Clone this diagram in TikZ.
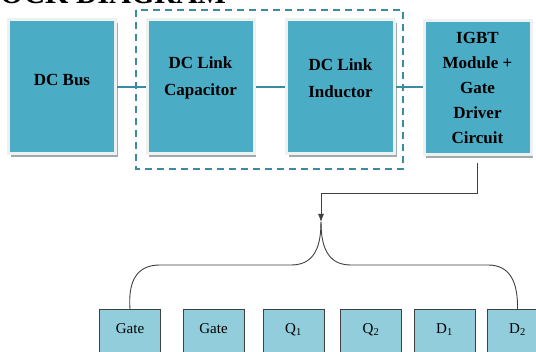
\documentclass[tikz,border=0pt]{standalone}
\usepackage{fontspec}
\setmainfont{Liberation Serif}
\usetikzlibrary{arrows.meta}
\usetikzlibrary{shadows}
\definecolor{blockblue}{RGB}{75,172,198}
\definecolor{blockframe}{RGB}{238,241,241}
\definecolor{blockshade}{RGB}{160,170,175}
\definecolor{linkteal}{RGB}{58,140,162}
\definecolor{legblue}{RGB}{146,205,220}
\definecolor{wiregray}{RGB}{64,64,64}
\tikzstyle{block}=[draw=blockframe, line width=3pt, fill=blockblue, inner sep=0,
                   minimum width=107pt, minimum height=134pt,
                   % grey drop shadow under the white frame
                   drop shadow={shadow xshift=2pt, shadow yshift=-3pt, fill=blockshade, opacity=1}]
\tikzstyle{blocktext}=[font=\fontsize{17}{27}\selectfont\bfseries, align=center]
\tikzstyle{legbox}=[draw=wiregray, line width=0.8pt, fill=legblue, anchor=north,
                    minimum width=61pt, inner xsep=0, inner ysep=12pt,
                    text height=12pt, text depth=40pt, font=\fontsize{15}{18}\selectfont]
\tikzstyle{link}=[draw=linkteal, line width=2.2pt]
\tikzstyle{group}=[draw=linkteal, line width=2pt, dash pattern=on 7pt off 5pt]
\tikzstyle{feed}=[draw=wiregray, line width=0.9pt]
\tikzstyle{heading}=[font=\fontsize{30}{30}\selectfont\bfseries, inner sep=0]

\begin{document}
\begin{tikzpicture}[x=1pt, y=-1pt]
    \useasboundingbox (0,0) rectangle (536,352);
    \clip (0,0) rectangle (536,352);
    \node[heading, anchor=base west] (title) at (-40,3.5) {BLOCK DIAGRAM};

    % power stage
    \draw[group] (136,10) rectangle (403,169);
    \node[block, label={[blocktext, yshift=7pt]center:DC Bus}] (bus) at (62,87) {};
    \node[block, label={[blocktext, yshift=9pt]center:DC Link\\Capacitor}] (cap) at (200.5,87) {};
    \node[block, minimum width=108pt, label={[blocktext, yshift=9pt]center:DC Link\\Inductor}] (ind) at (340.5,87) {};
    \node[block, label={[blocktext, font=\fontsize{17}{25}\selectfont\bfseries]center:IGBT\\Module +\\Gate\\Driver\\Circuit}] (igbt) at (477.5,88) {};
    \draw[link] (bus) -- (cap);
    \draw[link] (cap) -- (ind);
    \draw[link] (ind.east) -- (ind.east -| igbt.west);

    % driver outputs
    \coordinate (split) at (321,222);
    \node[legbox] (gatea) at (130,309) {Gate};
    \node[legbox] (gateb) at (213.5,309) {Gate};
    \node[legbox] (qa) at (293.5,309) {Q\textsubscript{1}};
    \node[legbox] (qb) at (371,309) {Q\textsubscript{2}};
    \node[legbox] (da) at (444.5,309) {D\textsubscript{1}};
    \node[legbox] (db) at (517.5,309) {D\textsubscript{2}};
    \draw[feed, -{Latex[length=8pt, width=6pt]}] (igbt.south) ++(0,7) -- ++(0,30) -| (split);
    \draw[feed] (split) .. controls (321,252) and (311,265) .. (291,265) -- (160,265)
        .. controls (136,265) and (128,282) .. (gatea.north);
    \draw[feed] (split) .. controls (321,252) and (331,265) .. (351,265) -- (488,265)
        .. controls (510,265) and (518,282) .. (db.north);
\end{tikzpicture}
\end{document}
